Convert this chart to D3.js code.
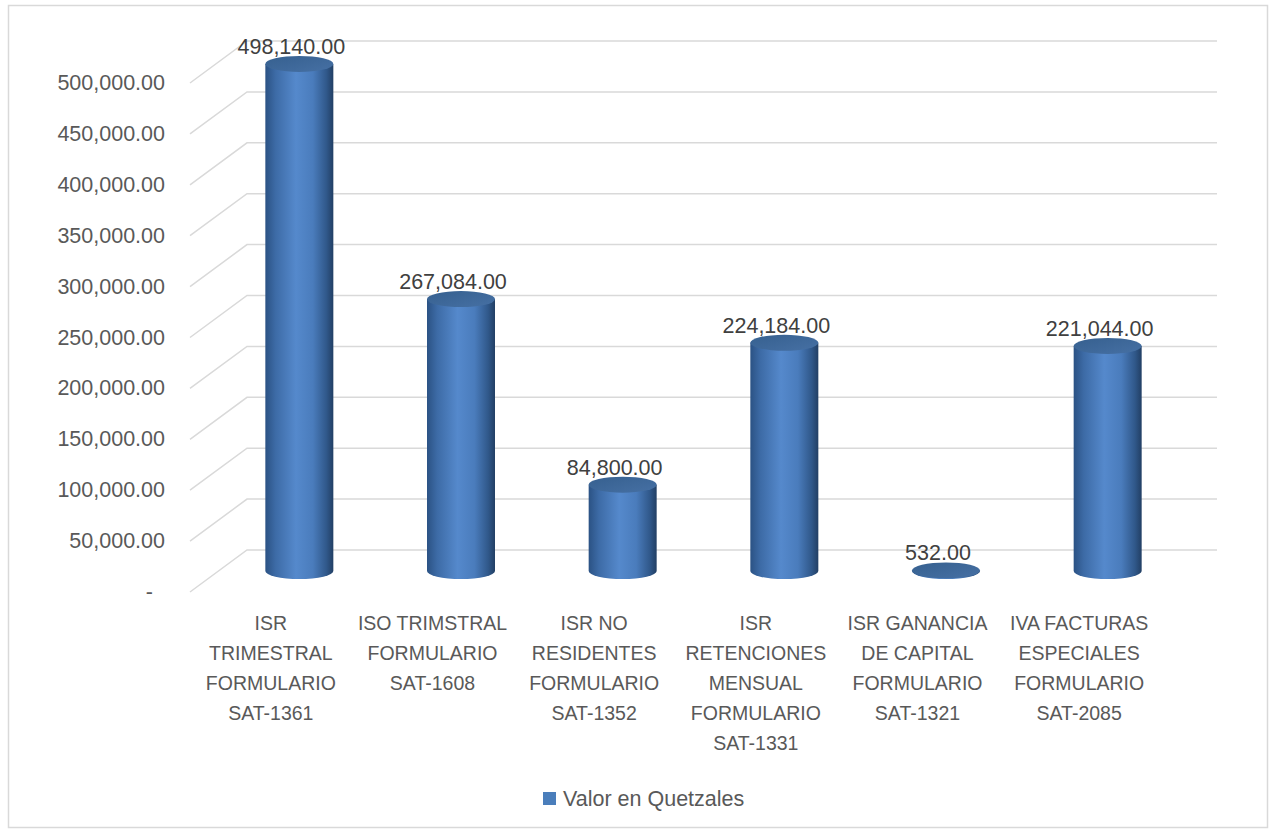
<!DOCTYPE html>
<html><head><meta charset="utf-8">
<script src="https://cdn.jsdelivr.net/npm/d3@7"></script>
<style>body{margin:0;background:#fff}svg{display:block}text{font-family:"Liberation Sans",Arial,sans-serif}</style>
</head><body>
<svg id="c" width="1270" height="830"></svg>
<script>
const categories = [
  ["ISR","TRIMESTRAL","FORMULARIO","SAT-1361"],
  ["ISO TRIMSTRAL","FORMULARIO","SAT-1608"],
  ["ISR NO","RESIDENTES","FORMULARIO","SAT-1352"],
  ["ISR","RETENCIONES","MENSUAL","FORMULARIO","SAT-1331"],
  ["ISR GANANCIA","DE CAPITAL","FORMULARIO","SAT-1321"],
  ["IVA FACTURAS","ESPECIALES","FORMULARIO","SAT-2085"]
];
const values = [498140, 267084, 84800, 224184, 532, 221044];
const yTicks = [0,50000,100000,150000,200000,250000,300000,350000,400000,450000,500000];
const seriesName = "Valor en Quetzales";

const svg = d3.select("#c");
svg.append("rect").attr("x",8.5).attr("y",5.5).attr("width",1259).attr("height",822)
  .attr("fill","#fff").attr("stroke","#d9d9d9").attr("stroke-width",1.5);

const DX = 57, DY = -42;
const y = d3.scaleLinear().domain([0,500000]).range([592,83]);
const x = d3.scaleBand().domain(d3.range(categories.length)).range([190,1160]);

const defs = svg.append("defs");
const g1 = defs.append("linearGradient").attr("id","body").attr("x1","0").attr("x2","1").attr("y1","0").attr("y2","0");
[[0,"#2b5284"],[0.15,"#3d6ba6"],[0.45,"#5589cc"],[0.7,"#4a7cbc"],[0.9,"#30588a"],[1,"#223f64"]]
  .forEach(([o,c])=>g1.append("stop").attr("offset",o).attr("stop-color",c));
const g2 = defs.append("linearGradient").attr("id","top").attr("x1","0").attr("x2","1").attr("y1","0").attr("y2","1");
[[0,"#36608f"],[1,"#4670a4"]].forEach(([o,c])=>g2.append("stop").attr("offset",o).attr("stop-color",c));

// gridlines
const grid = svg.append("g").attr("stroke","#d9d9d9").attr("stroke-width",1.5).attr("fill","none");
yTicks.forEach(t=>{
  const fy = y(t);
  grid.append("path").attr("d",`M190,${fy} L${190+DX},${fy+DY} L1217,${fy+DY}`);
});

// y labels
const fmt = d3.format(",.2f");
svg.append("g").selectAll("text").data(yTicks).join("text")
  .attr("x",d=>d===0?153:165).attr("y",d=>y(d)+7)
  .attr("text-anchor","end").attr("font-size",21.5).attr("fill","#595959")
  .text(d=>d===0?"-":fmt(d));

// cylinders
const rx = 34, ry = 8;
const bars = svg.append("g");
values.forEach((v,i)=>{
  const cx = x(i)+x.bandwidth()/2 + DX/2;
  const base = y(0)+DY/2;
  const top = y(v)+DY/2;
  const g = bars.append("g");
  g.append("path").attr("d",
    `M${cx-rx},${top} L${cx-rx},${base} A${rx},${ry} 0 0 0 ${cx+rx},${base} L${cx+rx},${top} Z`)
    .attr("fill","url(#body)");
  g.append("ellipse").attr("cx",cx).attr("cy",top).attr("rx",rx).attr("ry",ry).attr("fill","url(#top)");
  g.append("text").attr("x",cx-8).attr("y",top-10).attr("text-anchor","middle")
    .attr("font-size",21.5).attr("fill","#404040").text(fmt(v));
});

// category labels
categories.forEach((lines,i)=>{
  const cx = x(i)+x.bandwidth()/2;
  const t = svg.append("text").attr("text-anchor","middle").attr("font-size",19.5).attr("fill","#595959");
  lines.forEach((l,j)=>t.append("tspan").attr("x",cx).attr("y",630+j*30).text(l));
});

// legend
svg.append("rect").attr("x",543).attr("y",792).attr("width",13).attr("height",13).attr("fill","#4a7ebb");
svg.append("text").attr("x",563).attr("y",806).attr("font-size",21.5).attr("fill","#595959").text(seriesName);
</script>
</body></html>
